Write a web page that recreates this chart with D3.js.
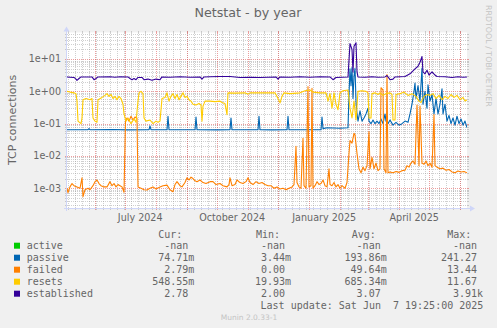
<!DOCTYPE html>
<html><head><meta charset="utf-8">
<script src="https://cdn.jsdelivr.net/npm/d3@7"></script>
<style>body{margin:0;background:#F0F0F0}svg{display:block}</style>
</head><body><svg id="c" width="497" height="328"></svg>
<script>
// ---- data (x = days since graph start, y = value) ----
const graphStart = "2024-05-03T19:25:00Z";
const graphEnd = "2025-06-07T19:25:00Z";
const yTickValues = [1e-3, 1e-2, 1e-1, 1e0, 1e1];
const yTickLabels = ["1e-03", "1e-02", "1e-01", "1e+00", "1e+01"];
const xLabelDates = ["2024-07-16", "2024-10-16", "2025-01-16", "2025-04-16"];
const xLabelTexts = ["July 2024", "October 2024", "January 2025", "April 2025"];

const seriesNames = ["active", "passive", "failed", "resets", "established"];
const seriesColors = ["#00CC00", "#0066B3", "#FF8000", "#FFCC00", "#330099"];
const curValues = ["-nan", "74.71m", "2.79m", "548.55m", "2.78"];
const minValues = ["-nan", "3.44m", "0.00", "19.93m", "2.00"];
const avgValues = ["-nan", "193.86m", "49.64m", "685.34m", "3.07"];
const maxValues = ["-nan", "241.27", "13.44", "11.67", "3.91k"];

const active = [];
const passive = [[0,0.065],[21,0.065],[22,0.07],[23,0.065],[45,0.066],[60,0.064],[82,0.065],[83,0.085],[84,0.065],[100,0.065],[101,0.17],[102,0.065],[128,0.065],[129,0.16],[130,0.065],[150,0.064],[163,0.065],[164,0.15],[165,0.065],[191,0.065],[192,0.17],[193,0.065],[205,0.064],[220,0.065],[221,0.17],[222,0.065],[240,0.065],[254,0.065],[255,0.16],[256,0.07],[260,0.075],[273,0.072],[281,0.075],[282,0.8],[283,5],[284,1.5],[285,5.5],[286,0.6],[287,3],[288,5.2],[289,0.5],[290,0.2],[291,0.12],[293,0.25],[295,0.12],[297,0.15],[299,0.2],[301,0.3],[302,0.12],[304,0.1],[306,0.13],[308,0.1],[310,0.12],[312,0.1],[314,0.14],[316,0.1],[318,0.2],[319,0.12],[321,0.1],[323,0.13],[326,0.09],[329,0.11],[332,0.09],[335,0.1],[338,0.12],[341,0.11],[343,0.2],[345,0.4],[347,1.0],[348,1.8],[349,0.6],[351,1.5],[353,0.5],[355,5.3],[356,0.4],[358,1.0],[360,0.3],[361,1.6],[363,0.5],[365,0.8],[367,0.2],[369,0.6],[371,0.2],[373,0.4],[375,1.2],[376,0.2],[378,0.4],[380,0.12],[382,0.18],[384,0.1],[386,0.15],[388,0.09],[390,0.17],[392,0.1],[394,0.14],[396,0.09],[398,0.12],[400,0.075]];
const failed = [[0,1.0e-3],[1,0.73e-3],[3,1.1e-3],[5,1.4e-3],[7,1.2e-3],[10,1.1e-3],[13,1.0e-3],[15,2.1e-3],[16,0.55e-3],[18,0.9e-3],[21,1.0e-3],[23,0.9e-3],[26,1.2e-3],[28,1.6e-3],[30,1.8e-3],[32,1.4e-3],[34,1.2e-3],[37,1.1e-3],[40,1.1e-3],[43,1.6e-3],[45,1.2e-3],[47,1.4e-3],[49,1.1e-3],[51,1.3e-3],[53,1.2e-3],[55,1.1e-3],[57,0.75e-3],[58.5,0.12],[60,0.15],[62,0.12],[64,0.17],[66,0.13],[68,0.16],[70,0.15],[71,1.1e-3],[74,1.0e-3],[77,0.9e-3],[80,0.88e-3],[83,1.0e-3],[86,1.1e-3],[89,0.95e-3],[93,1.1e-3],[96,1.2e-3],[100,1.25e-3],[103,0.9e-3],[106,0.78e-3],[108,1.3e-3],[110,1.6e-3],[113,1.2e-3],[115,1.1e-3],[118,1.5e-3],[120,2.1e-3],[122,1.8e-3],[124,2.2e-3],[126,2.0e-3],[128,1.7e-3],[130,1.6e-3],[133,1.8e-3],[136,1.5e-3],[139,1.4e-3],[143,1.6e-3],[146,1.6e-3],[149,1.3e-3],[153,1.4e-3],[156,1.2e-3],[160,1.1e-3],[162,1.3e-3],[163,2.1e-3],[165,1.2e-3],[168,1.3e-3],[170,1.8e-3],[173,1.5e-3],[176,1.4e-3],[179,1.6e-3],[181,2.1e-3],[183,1.5e-3],[186,1.3e-3],[189,1.6e-3],[192,1.4e-3],[195,1.5e-3],[198,1.3e-3],[201,1.2e-3],[204,1.2e-3],[207,1.0e-3],[210,1.1e-3],[213,0.95e-3],[216,1.0e-3],[219,0.9e-3],[222,1.0e-3],[225,1.1e-3],[227,1.3e-3],[229,0.02],[230,1.5e-3],[232,1.1e-3],[234,1.0e-3],[236,0.035],[237,1.2e-3],[239,1.0e-3],[241,1.4],[242,1.1e-3],[244,1.2e-3],[245,1.25],[246,1.0e-3],[248,1.2e-3],[250,1.6e-3],[252,1.3e-3],[254,1.4e-3],[256,1.8e-3],[258,1.2e-3],[260,1.1e-3],[262,4e-3],[263,1.3e-3],[265,1.2e-3],[267,1.5e-3],[269,1.1e-3],[271,1.3e-3],[273,1.0e-3],[275,1.2e-3],[278,1.0e-3],[280,1.5e-3],[282,0.012],[283,0.03],[285,0.025],[287,0.05],[288,0.045],[290,0.012],[292,4e-3],[294,3e-3],[296,4.5e-3],[298,3.5e-3],[300,5e-3],[302,0.056],[303,4e-3],[305,0.009],[307,4e-3],[309,6e-3],[311,3.5e-3],[313,4e-3],[314,1.3],[316,1.1],[317,4e-3],[319,3e-3],[320,3.3],[321,3e-3],[323,3.2e-3],[326,3e-3],[329,3.3e-3],[332,3.1e-3],[335,3.5e-3],[338,3.6e-3],[340,5e-3],[342,4.5e-3],[344,6e-3],[346,7e-3],[348,5.5e-3],[350,0.38],[352,5e-3],[353,0.35],[355,6e-3],[357,5.5e-3],[359,7e-3],[361,5e-3],[363,6e-3],[365,4.5e-3],[367,0.19],[368,5e-3],[370,4.5e-3],[373,4e-3],[376,4.2e-3],[379,3.6e-3],[382,3.8e-3],[385,3.2e-3],[388,3.0e-3],[391,3.4e-3],[394,3.2e-3],[397,3.3e-3],[400,3.0e-3]];
const resets = [[0,1.0],[3,0.95],[7,0.9],[9,0.85],[10,0.5],[11,0.12],[14,0.1],[15,0.15],[16,0.55],[19,0.6],[23,0.55],[25,0.6],[26,0.15],[28,0.12],[30,0.11],[31,0.55],[35,0.65],[38,0.75],[40,0.85],[42,0.7],[44,0.8],[46,0.6],[48,0.7],[50,0.55],[52,0.7],[54,0.6],[56,0.4],[57,0.2],[59,0.12],[61,0.15],[64,0.1],[67,0.14],[69,0.11],[71,0.5],[72,0.9],[74,1.0],[76,0.85],[77,0.15],[79,0.12],[83,0.13],[86,0.1],[89,0.12],[91,0.11],[93,0.12],[95,0.6],[98,0.65],[100,0.9],[102,0.5],[104,0.7],[106,0.85],[108,0.6],[110,0.8],[112,0.55],[114,0.7],[116,0.9],[118,0.65],[120,0.7],[122,0.55],[124,0.5],[126,0.4],[129,0.38],[132,0.42],[134,0.38],[135,0.12],[136,0.35],[138,0.5],[143,0.5],[148,0.48],[153,0.5],[155,0.45],[158,0.42],[160,0.19],[161,0.9],[168,0.88],[178,0.9],[181,0.82],[183,0.9],[198,0.9],[208,0.9],[211,0.6],[213,0.44],[215,0.7],[217,0.9],[223,0.85],[233,0.9],[238,1.05],[243,1.1],[246,0.95],[253,0.9],[259,0.9],[261,0.5],[263,0.85],[265,0.3],[267,0.9],[269,0.4],[271,0.27],[273,0.9],[276,1.05],[281,1.1],[283,0.3],[285,0.15],[287,0.5],[289,0.13],[291,1.0],[295,1.05],[299,1.0],[301,0.9],[302,0.15],[304,0.15],[305,0.85],[308,0.9],[311,0.8],[313,0.9],[316,0.75],[319,0.85],[323,0.9],[325,0.8],[326,0.13],[328,0.13],[329,0.8],[333,0.85],[337,0.95],[341,0.75],[345,0.85],[349,0.7],[352,0.5],[354,0.45],[357,0.7],[360,0.8],[363,0.75],[366,0.85],[369,0.6],[372,0.75],[375,0.55],[378,0.7],[381,0.6],[384,0.8],[387,0.65],[390,0.75],[393,0.55],[396,0.65],[398,0.5],[400,0.55]];
const established = [[0,2.8],[3,2.75],[7,2.7],[9,2.4],[10,2.2],[12,2.5],[14,2.8],[25,2.8],[27,2.3],[29,2.5],[31,2.8],[43,2.85],[48,2.75],[53,2.85],[61,2.8],[63,2.5],[65,2.3],[67,2.5],[69,2.3],[71,2.7],[75,2.7],[77,2.3],[81,2.4],[85,2.2],[89,2.4],[93,2.3],[95,2.8],[103,2.75],[113,2.85],[123,2.75],[133,2.8],[135,2.4],[137,2.8],[143,2.85],[153,2.9],[163,2.9],[173,2.7],[183,2.75],[193,2.7],[209,2.8],[211,2.4],[213,2.8],[223,2.75],[233,2.85],[243,2.75],[253,2.85],[263,2.8],[266,2.3],[269,2.7],[281,2.8],[283,30],[285,20],[286,4],[287,25],[289,32],[290,4],[291,2.8],[298,2.75],[305,2.85],[311,2.75],[318,2.8],[320,3.1],[323,2.3],[326,2.4],[328,2.8],[338,2.9],[343,3.5],[348,5],[351,6],[353,8],[355,12],[356,4],[358,3.5],[360,4.5],[362,3.2],[365,4],[368,3.2],[370,2.9],[378,2.85],[385,2.7],[391,2.85],[396,2.75],[400,2.8]];
const seriesData = [active, passive, failed, resets, established];

// ---- layout ----
const W = 497, H = 328;
const L = 67, R = 467, T = 32.5, B = 208;
const FONT = "#666666";
const svg = d3.select("#c");
svg.append("rect").attr("width", W).attr("height", H).attr("fill", "#F0F0F0");
svg.append("rect").attr("x", L).attr("y", T).attr("width", R - L).attr("height", B - T).attr("fill", "#FFFFFF");

const t0 = new Date(graphStart), t1 = new Date(graphEnd);
const x = d3.scaleUtc().domain([t0, t1]).range([L, R]);
const y = d3.scaleLog().domain([Math.pow(10, -3.612), Math.pow(10, 1.823)]).range([B, T]);
const dayDate = d => new Date(t0.getTime() + d * 86400000);

const gridMinor = "rgba(143,143,143,0.42)";
const gridMajor = "rgba(222,79,79,0.55)";
const g = svg.append("g").attr("shape-rendering", "crispEdges");

// horizontal grid
const [ylo, yhi] = y.domain();
const minorY = [], majorY = [];
for (let k = -5; k <= 2; k++) {
  for (let m = 1; m <= 9; m++) {
    const v = m * Math.pow(10, k);
    if (v < ylo || v > yhi) continue;
    (m === 1 ? majorY : minorY).push(v);
  }
}
function hline(v, col) {
  const yy = Math.round(y(v)) + 0.5;
  g.append("line").attr("x1", L).attr("x2", R).attr("y1", yy).attr("y2", yy)
    .attr("stroke", col).attr("stroke-dasharray", "1,1");
  g.append("line").attr("x1", L - 2).attr("x2", L).attr("y1", yy).attr("y2", yy).attr("stroke", col);
  g.append("line").attr("x1", R).attr("x2", R + 2).attr("y1", yy).attr("y2", yy).attr("stroke", col);
}
function vline(t, col) {
  const xx = Math.round(x(t)) + 0.5;
  g.append("line").attr("x1", xx).attr("x2", xx).attr("y1", T).attr("y2", B)
    .attr("stroke", col).attr("stroke-dasharray", "1,1");
  g.append("line").attr("x1", xx).attr("x2", xx).attr("y1", B).attr("y2", B + 2).attr("stroke", col);
  g.append("line").attr("x1", xx).attr("x2", xx).attr("y1", T - 2).attr("y2", T).attr("stroke", col);
}
minorY.forEach(v => hline(v, gridMinor));
d3.utcSunday.range(t0, t1).forEach(t => vline(t, gridMinor));
majorY.forEach(v => hline(v, gridMajor));
d3.utcMonth.range(t0, t1).forEach(t => vline(t, gridMajor));

// data lines
svg.append("clipPath").attr("id", "clip").append("rect")
  .attr("x", L).attr("y", T).attr("width", R - L).attr("height", B - T);
const line = d3.line().x(d => x(dayDate(d[0]))).y(d => y(d[1]));
seriesData.forEach((s, i) => {
  if (!s.length) return;
  svg.append("path").attr("d", line(s)).attr("fill", "none")
    .attr("stroke", seriesColors[i]).attr("stroke-width", 1.1)
    .attr("stroke-linejoin", "round").attr("clip-path", "url(#clip)");
});

// axes
const AX = "#CFD6F8";
const ax = svg.append("g");
ax.append("line").attr("x1", L - 0.5).attr("x2", L - 0.5).attr("y1", B + 3).attr("y2", T - 3)
  .attr("stroke", AX).attr("shape-rendering", "crispEdges");
ax.append("line").attr("x1", L - 3).attr("x2", R + 4).attr("y1", B + 0.5).attr("y2", B + 0.5)
  .attr("stroke", AX).attr("shape-rendering", "crispEdges");
ax.append("path").attr("d", `M${L - 3.5},${T - 1} L${L - 0.5},${T - 6} L${L + 2.5},${T - 1} Z`).attr("fill", AX);
ax.append("path").attr("d", `M${R + 3},${B - 2.5} L${R + 8},${B + 0.5} L${R + 3},${B + 3.5} Z`).attr("fill", AX);

// y tick labels
yTickValues.forEach((v, i) => {
  svg.append("text").attr("x", 61).attr("y", y(v) + 3.4).attr("text-anchor", "end")
    .attr("font-family", "DejaVu Sans").attr("font-size", 9.6).attr("fill", FONT).text(yTickLabels[i]);
});
// x labels
xLabelDates.forEach((d, i) => {
  svg.append("text").attr("x", x(new Date(d + "T00:00:00Z"))).attr("y", 220.5).attr("text-anchor", "middle")
    .attr("font-family", "DejaVu Sans").attr("font-size", 9.6).attr("fill", FONT).text(xLabelTexts[i]);
});

// title
svg.append("text").attr("x", 248).attr("y", 17).attr("text-anchor", "middle")
  .attr("font-family", "DejaVu Sans").attr("font-size", 12.7).attr("fill", FONT).text("Netstat - by year");
// y axis title
svg.append("text").attr("transform", "translate(15.5,120) rotate(-90)").attr("text-anchor", "middle")
  .attr("font-family", "DejaVu Sans").attr("font-size", 11).attr("fill", FONT).text("TCP connections");
// watermark right
svg.append("text").attr("transform", "translate(486,5) rotate(90)").attr("text-anchor", "start")
  .attr("font-family", "DejaVu Sans").attr("font-size", 7.9).attr("fill", "#C4C4C4").text("RRDTOOL / TOBI OETIKER");

// legend
const mono = "DejaVu Sans Mono";
const headers = ["Cur:", "Min:", "Avg:", "Max:"];
const headerX = [158.3, 256, 351.7, 447.3];
const colRight = [188.3, 285, 380.7, 477];
headers.forEach((h, i) => {
  svg.append("text").attr("x", headerX[i]).attr("y", 237.5)
    .attr("font-family", mono).attr("font-size", 10).attr("fill", FONT).text(h);
});
const cols = [curValues, minValues, avgValues, maxValues];
seriesNames.forEach((n, r) => {
  const cy = 245.7 + r * 12;
  svg.append("rect").attr("x", 14).attr("y", cy - 3).attr("width", 6).attr("height", 6)
    .attr("fill", seriesColors[r]);
  svg.append("text").attr("x", 26.7).attr("y", cy + 3.5)
    .attr("font-family", mono).attr("font-size", 10).attr("fill", FONT).text(n);
  cols.forEach((c, j) => {
    const s = c[r];
    const hasSuffix = /[a-zA-Z]$/.test(s) && s !== "-nan";
    svg.append("text").attr("x", colRight[j] + (hasSuffix ? 6 : 0)).attr("y", cy + 3.5)
      .attr("text-anchor", "end").attr("font-family", mono).attr("font-size", 10)
      .attr("fill", FONT).text(s);
  });
});
svg.append("text").attr("x", 483.3).attr("y", 309).attr("text-anchor", "end")
  .attr("font-family", mono).attr("font-size", 10).attr("fill", FONT)
  .attr("xml:space", "preserve").style("white-space", "pre")
  .text("Last update: Sat Jun  7 19:25:00 2025");
svg.append("text").attr("x", 249).attr("y", 320).attr("text-anchor", "middle")
  .attr("font-family", "DejaVu Sans").attr("font-size", 7.5).attr("fill", "#C4C4C4").text("Munin 2.0.33-1");
</script></body></html>
